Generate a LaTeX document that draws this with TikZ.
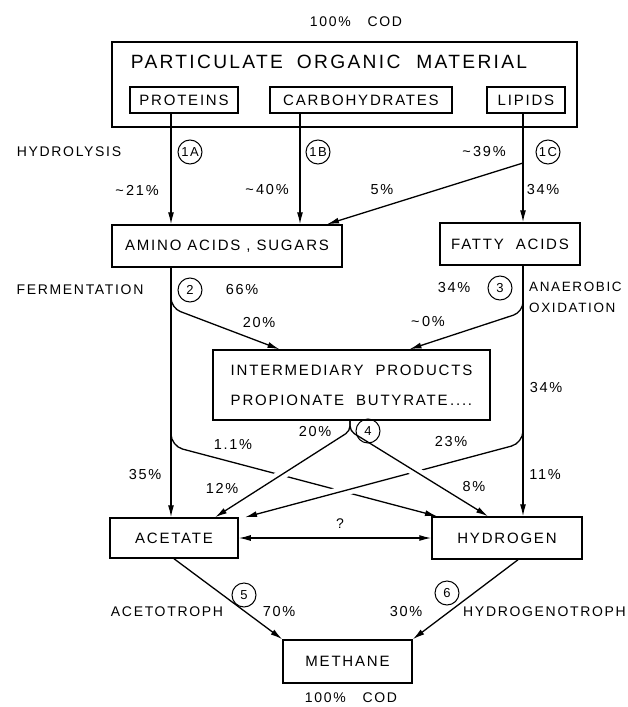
\documentclass[tikz,border=0pt]{standalone}
\usepackage{fontspec}
\newfontfamily\lettering[LetterSpace=12]{Liberation Sans}
\usetikzlibrary{arrows.meta,calc}

\tikzset{
  box/.style={draw, line width=1.5pt, inner sep=0pt, font=\lettering\fontsize{15}{30}\selectfont},
  flow/.style={line width=1.3pt, -{Latex[length=12pt,width=6pt]}},
  gap/.style={draw=white, line width=10pt},
  stage/.style={draw, circle, line width=1pt, minimum size=24pt, inner sep=0pt, font=\lettering\fontsize{13}{13}\selectfont},
  pct/.style={font=\lettering\fontsize{14.5}{14.5}\selectfont, inner sep=0pt},
  tag/.style={font=\lettering\fontsize{14}{14}\selectfont, inner sep=0pt},
}

\begin{document}
\begin{tikzpicture}[x=1pt, y=-1pt]
\useasboundingbox (0,0) rectangle (627,707);

% boxes
\node [box, minimum width=465pt, minimum height=85pt] (pom) at (344.5,84.5) {};
\node [box, draw=none, font=\lettering\fontsize{19.2}{19.2}\selectfont] (pomtext) at (329,62) {PARTICULATE\hspace{14pt}ORGANIC\hspace{16pt}MATERIAL};
\node [box, minimum width=108pt, minimum height=26pt] (prot) at (184,100) {PROTEINS};
\node [box, minimum width=182pt, minimum height=26pt] (carb) at (361,100) {CARBOHYDRATES};
\node [box, minimum width=78pt, minimum height=26pt] (lip) at (526,100) {LIPIDS};
\node [box, minimum width=230pt, minimum height=42pt] (amino) at (227,246) {AMINO\ ACIDS\ ,\ SUGARS};
\node [box, minimum width=140pt, minimum height=42pt] (fatty) at (510,244) {FATTY\ \ ACIDS};
\node [box, minimum width=277pt, minimum height=70pt, align=left] (inter) at (351.5,385) {INTERMEDIARY\ \ PRODUCTS\\PROPIONATE\ \ BUTYRATE\,....};
\node [box, minimum width=128pt, minimum height=40pt] (acetate) at (174,538) {ACETATE};
\node [box, minimum width=150pt, minimum height=42pt] (hydrogen) at (507,538) {HYDROGEN};
\node [box, minimum width=129pt, minimum height=43pt] (methane) at (347.5,661.5) {METHANE};

% hydrolysis
\coordinate (jC) at (523,163);
\draw [flow] ([xshift=-13pt]prot.south) -- ([xshift=-13pt]prot.south |- amino.north);
\draw [flow] ([xshift=-61pt]carb.south) -- ([xshift=-61pt]carb.south |- amino.north);
\draw [flow] ([xshift=-3pt]lip.south) -- ([xshift=-3pt]lip.south |- fatty.north);
\draw [flow] (jC) -- ([xshift=100pt]amino.north);

% fermentation and anaerobic oxidation
\coordinate (j2a) at (171,292);
\coordinate (j2b) at (171,308);
\coordinate (j3a) at (523,295);
\coordinate (j3b) at (523,312);
\draw [flow] ([xshift=-56pt]amino.south) -- ([xshift=-56pt]amino.south |- acetate.north);
\draw [flow, rounded corners=10pt] (j2a) -- (j2b) -- ([xshift=-72pt]inter.north);
\draw [flow] ([xshift=13pt]fatty.south) -- ([xshift=13pt]fatty.south |- hydrogen.north);
\draw [flow, rounded corners=10pt] (j3a) -- (j3b) -- ([xshift=58pt]inter.north);

% crossing lines, the upper one cuts a gap in the lower one
\coordinate (j4) at (350,431);
\coordinate (j5a) at (171,425);
\coordinate (j5b) at (171,446);
\coordinate (j6a) at (523,425);
\coordinate (j6b) at (523,443);
\coordinate (t12) at ([xshift=41pt]acetate.north);
\coordinate (t23) at ([xshift=71pt]acetate.north);
\coordinate (t11) at ([xshift=-70pt]hydrogen.north);
\coordinate (t8) at ([xshift=-19pt]hydrogen.north);
\draw [flow, rounded corners=12pt] (j5a) -- (j5b) -- (t11);
\draw [gap] ($(j4)!0.3!(t12)$) -- ($(j4)!0.8!(t12)$);
\draw [flow, rounded corners=5pt] ([xshift=-1.5pt]inter.south) -- (j4) -- (t12);
\draw [gap] ($(j6b)!0.2!(t23)$) -- ($(j6b)!0.85!(t23)$);
\draw [flow, rounded corners=12pt] (j6a) -- (j6b) -- (t23);
\draw [gap] ($(j4)!0.3!(t8)$) -- ($(j4)!0.7!(t8)$);
\draw [flow, rounded corners=5pt] ([xshift=-1.5pt]inter.south) -- (j4) -- (t8);

% acetate - hydrogen - methane
\draw [line width=1.3pt, {Latex[length=12pt,width=6pt]}-{Latex[length=12pt,width=6pt]}] (acetate.east) -- (hydrogen.west);
\draw [flow] (acetate.south) -- (methane.north west);
\draw [flow] ([xshift=11pt]hydrogen.south) -- (methane.north east);

% stages
\node [stage] (s1a) at (190,152) {1A};
\node [stage] (s1b) at (318,152) {1B};
\node [stage] (s1c) at (548,152) {1C};
\node [stage] (s2) at (190,290) {2};
\node [stage] (s3) at (500,288) {3};
\node [stage] (s4) at (368,431) {4};
\node [stage] (s5) at (244,595) {5};
\node [stage] (s6) at (447,593) {6};

% process names
\node [tag] (codtop) at (356,22) {100\%\ \ \ COD};
\node [tag] (hydrolysis) at (69,152) {HYDROLYSIS};
\node [tag] (ferment) at (80,290) {FERMENTATION};
\node [tag, anchor=west, align=left, font=\lettering\fontsize{13.5}{21}\selectfont] (oxid) at (529,297.5) {ANAEROBIC\\OXIDATION};
\node [tag] (acetotroph) at (167,612) {ACETOTROPH};
\node [tag, anchor=west] (hydrotroph) at (463,612) {HYDROGENOTROPH};
\node [tag] (codbot) at (351,698) {100\%\ \ \ COD};
\node [tag] (query) at (340,524) {?};

% percentages
\node [pct] (p39) at (484,152) {\textasciitilde\,39\%};
\node [pct] (p21) at (137,190) {\textasciitilde\,21\%};
\node [pct] (p40) at (267,190) {\textasciitilde\,40\%};
\node [pct] (p5) at (382,190) {5\%};
\node [pct] (p34a) at (543,190) {34\%};
\node [pct] (p66) at (242,290) {66\%};
\node [pct] (p20a) at (259,323) {20\%};
\node [pct] (p34b) at (454,288) {34\%};
\node [pct] (p0) at (428,322) {\textasciitilde\,0\%};
\node [pct] (p34c) at (546,388) {34\%};
\node [pct] (p20b) at (315,432) {20\%};
\node [pct] (p11a) at (233,445) {1.1\%};
\node [pct] (p23) at (451,442) {23\%};
\node [pct] (p35) at (145,475) {35\%};
\node [pct] (p12) at (222,488) {12\%};
\node [pct] (p8) at (474,487) {8\%};
\node [pct] (p11b) at (545,475) {11\%};
\node [pct] (p70) at (279,612) {70\%};
\node [pct] (p30) at (406,612) {30\%};
\end{tikzpicture}
\end{document}
